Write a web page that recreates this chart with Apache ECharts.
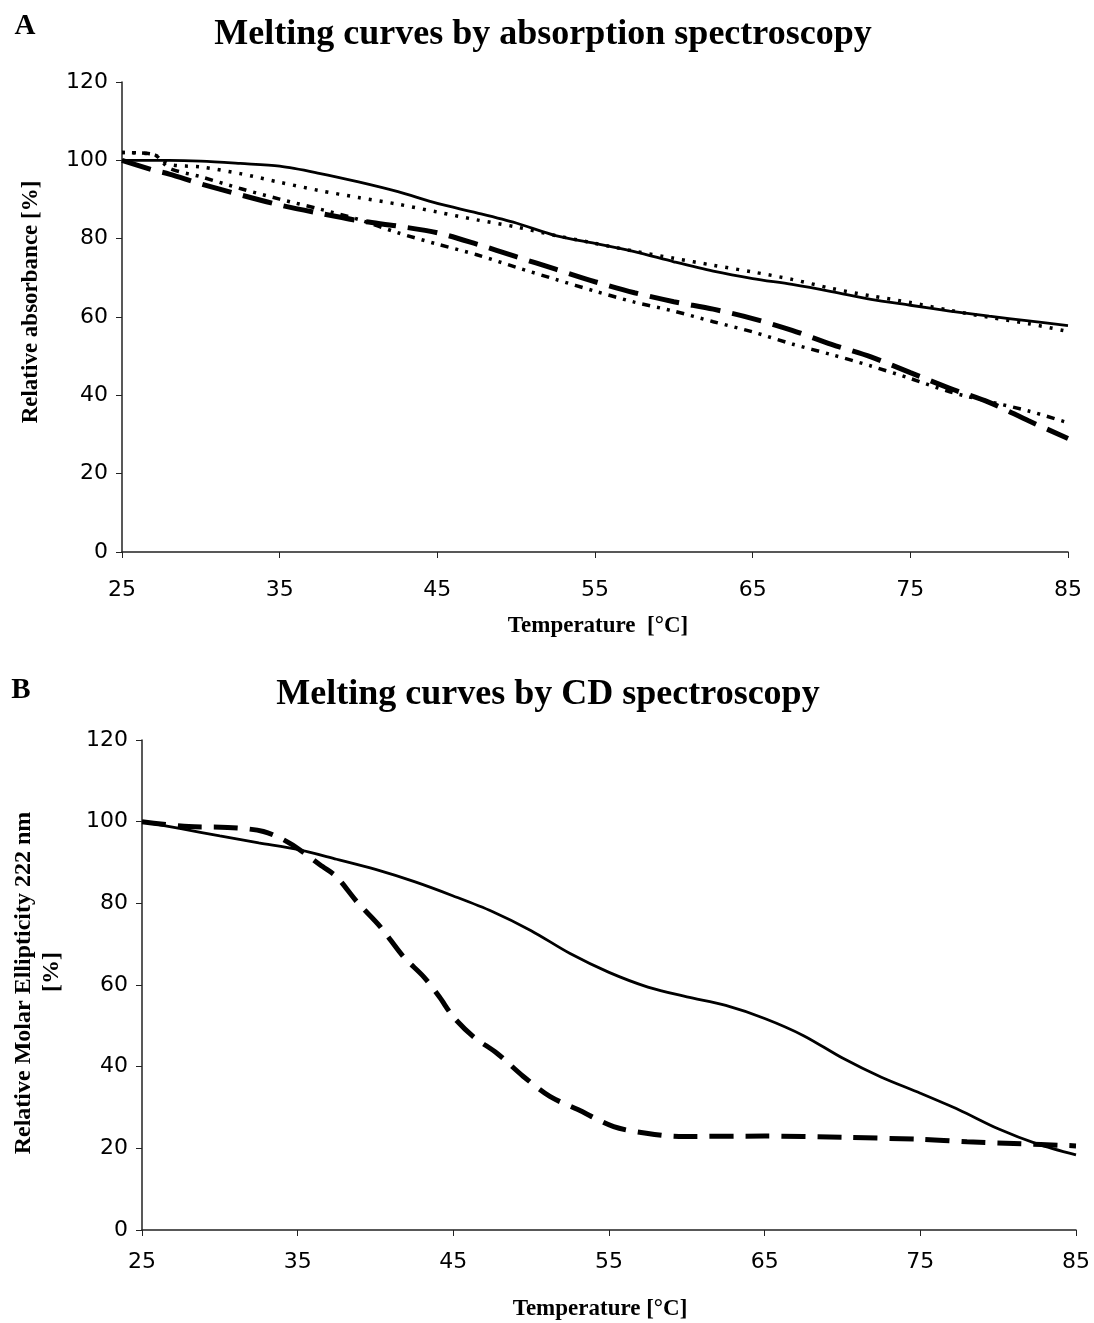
<!DOCTYPE html>
<html>
<head>
<meta charset="utf-8">
<script src="https://cdn.jsdelivr.net/npm/echarts@6/dist/echarts.min.js"></script>
<style>
  html, body { margin: 0; padding: 0; background: #fff; }
  #chart { width: 1094px; height: 1323px; }
</style>
</head>
<body>
<div id="chart"></div>
<script>
// Panel A: absorption spectroscopy
const tempA = [25, 27, 28, 30, 32.5, 35, 37.5, 40, 42.5, 45, 47.5, 50, 52.5, 55, 57.5, 60, 62.5, 65, 67.5, 70, 72.5, 75, 77.5, 80, 82.5, 85];
const solidA = [100, 100, 100, 99.8, 99.2, 98.5, 96.7, 94.5, 92, 89, 86.6, 84, 80.8, 78.8, 76.7, 74.1, 71.7, 69.8, 68.3, 66.5, 64.5, 63, 61.5, 60.2, 59, 57.8];
const dottedA = [102, 101.5, 99, 98.3, 96.6, 94.4, 92.3, 90.5, 88.8, 86.8, 84.8, 83, 80.8, 78.8, 76.8, 75, 73.2, 71.5, 69.6, 67.3, 65.4, 63.7, 61.7, 59.9, 58.3, 56.3];
const dashedA = [100, 97.5, 96.5, 94, 91.2, 88.6, 86.5, 84.6, 83.2, 81.5, 78.6, 75.4, 72.2, 69, 66.2, 63.9, 62, 59.6, 56.6, 53, 49.8, 45.8, 41.8, 38.2, 33.5, 29];
const dashDotA = [102, 101.5, 98, 95.8, 92.8, 90.1, 87.6, 84.9, 81.5, 78.6, 75.9, 72.7, 69.6, 66.6, 63.8, 61.5, 58.8, 56.2, 53.1, 50.4, 47.5, 44.3, 40.9, 38.4, 36, 33];

// Panel B: CD spectroscopy
const tempB = [25, 27.5, 30, 32.5, 35, 37.5, 40, 42.5, 45, 47.5, 50, 52.5, 55, 57.5, 60, 62.5, 65, 67.5, 70, 72.5, 75, 77.5, 80, 82.5, 85];
const solidB = [100, 98.3, 96.5, 94.8, 93.2, 90.8, 88.3, 85.3, 81.8, 78, 73.3, 67.7, 63.1, 59.5, 57.1, 55, 51.8, 47.6, 42.1, 37.4, 33.5, 29.4, 24.8, 21.1, 18.4];
const tempBDash = [25, 28, 30.5, 32.8, 34.5, 36.6, 37.5, 38.8, 40.3, 41.8, 43.1, 44.1, 45, 46.3, 47.8, 49.5, 51.2, 53, 55.3, 57.4, 59.5, 65, 70, 75, 78, 81, 85];
const dashedB = [100, 98.8, 98.6, 97.6, 94.7, 89, 86.5, 80.4, 74.3, 66.9, 62, 57.1, 52.2, 47.3, 43.3, 37.6, 32.7, 29.5, 25.3, 23.7, 22.9, 23, 22.7, 22.2, 21.6, 21.2, 20.6];

const pairs = (xs, ys) => xs.map((x, i) => [x, ys[i]]);

const serif = "Liberation Serif";
const sans = "DejaVu Sans";

const xAxisBase = (gridIndex, labelMargin) => ({
  type: "value",
  gridIndex,
  min: 25,
  max: 85,
  interval: 10,
  splitLine: { show: false },
  axisLine: { lineStyle: { color: "#222", width: 1.5 } },
  axisTick: { show: true, length: 6, lineStyle: { color: "#222" } },
  axisLabel: { color: "#000", fontFamily: sans, fontSize: 22, margin: labelMargin },
});

const yAxisBase = (gridIndex) => ({
  type: "value",
  gridIndex,
  min: 0,
  max: 120,
  interval: 20,
  splitLine: { show: false },
  axisLine: { show: true, lineStyle: { color: "#222", width: 1.5 } },
  axisTick: { show: true, length: 6, lineStyle: { color: "#222" } },
  axisLabel: { color: "#000", fontFamily: sans, fontSize: 22, margin: 14 },
});

const line = (xi, data, width, type) => ({
  type: "line",
  xAxisIndex: xi,
  yAxisIndex: xi,
  data,
  smooth: 0.3,
  showSymbol: false,
  animation: false,
  lineStyle: { color: "#000", width, type, cap: "butt" },
});

// rotated / free text helper
const label = (text, x, y, size, rotate) => ({
  type: "text", x, y, rotation: rotate ? Math.PI / 2 : 0,
  style: { text, font: `bold ${size}px 'Liberation Serif'`, fill: "#000", align: "center", verticalAlign: "middle" },
});

const chart = echarts.init(document.getElementById("chart"));

chart.setOption({
  backgroundColor: "#fff",
  animation: false,
  title: [
    { text: "Melting curves by absorption spectroscopy", left: 538, top: 12, textAlign: "center",
      textStyle: { fontFamily: serif, fontWeight: "bold", fontSize: 36, color: "#000" } },
    { text: "Melting curves by CD spectroscopy", left: 543, top: 672, textAlign: "center",
      textStyle: { fontFamily: serif, fontWeight: "bold", fontSize: 36, color: "#000" } },
  ],
  graphic: [
    label("A", 25, 27, 29, false),
    label("B", 21, 691, 29, false),
    label("Relative absorbance [%]", 31, 302, 23, true),
    label("Relative Molar Ellipticity 222 nm", 24, 983, 24, true),
    label("[%]", 52, 972, 24, true),
    label("Temperature  [°C]", 598, 626, 23, false),
    label("Temperature [°C]", 600, 1309, 23, false),
  ],
  grid: [
    { left: 122, top: 82, width: 946, height: 470 },
    { left: 142, top: 740, width: 934, height: 490 },
  ],
  xAxis: [xAxisBase(0, 27), xAxisBase(1, 21)],
  yAxis: [yAxisBase(0), yAxisBase(1)],
  series: [
    line(0, pairs(tempA, solidA), 2.8, "solid"),
    line(0, pairs(tempA, dottedA), 3.5, [3, 8]),
    line(0, pairs(tempA, dashedA), 5, [30, 12]),
    line(0, pairs(tempA, dashDotA), 3.5, [3, 7, 3, 7, 8, 7]),
    line(1, pairs(tempB, solidB), 2.8, "solid"),
    line(1, pairs(tempBDash, dashedB), 5, [24, 12]),
  ],
});
</script>
</body>
</html>
